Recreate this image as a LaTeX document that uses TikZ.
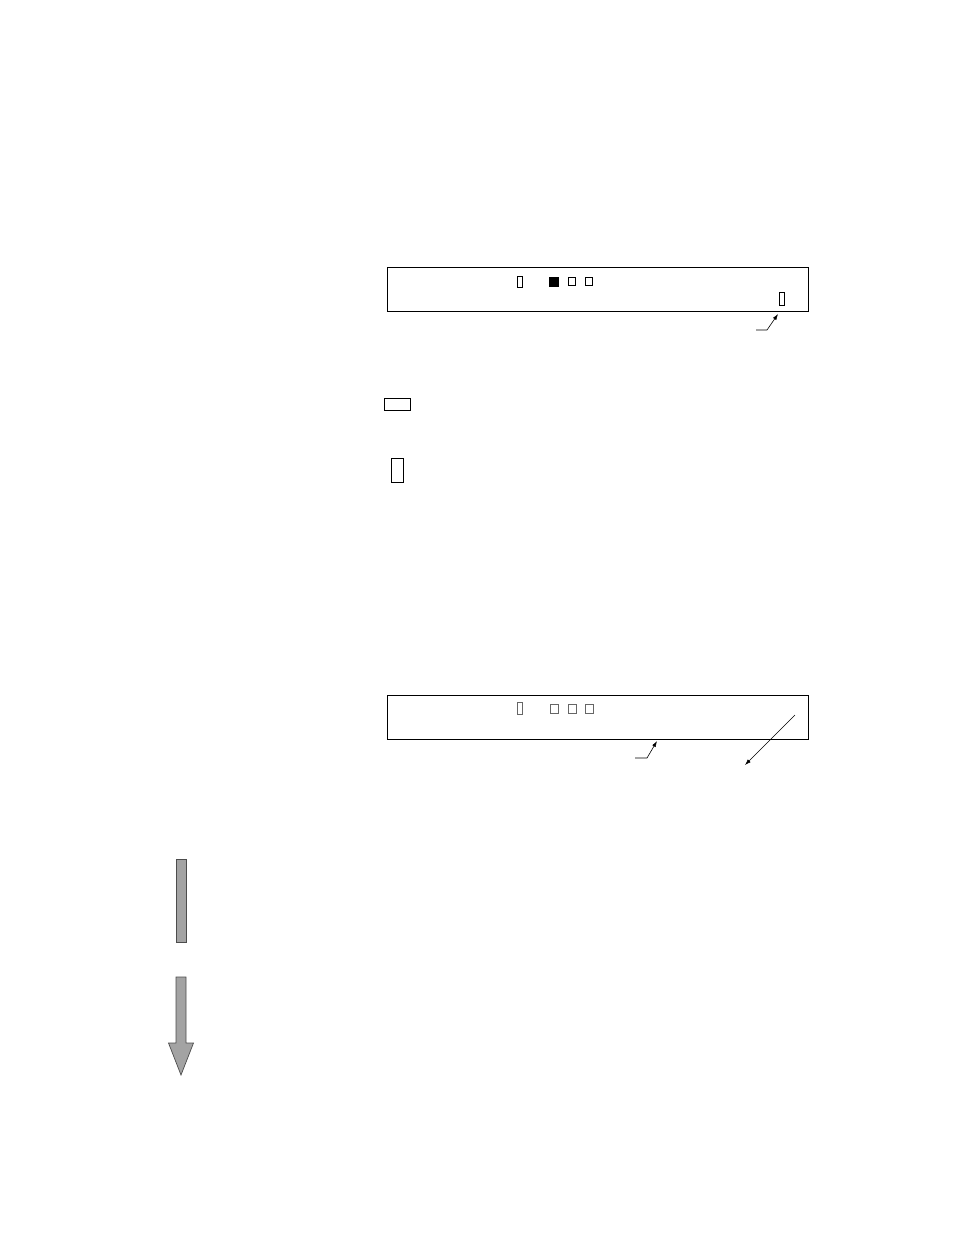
\documentclass[tikz,border=0pt]{standalone}
\usetikzlibrary{arrows.meta}
\newcommand{\framecolor}{black}
\newcommand{\flowcolor}{gray!72}
\newcommand{\thin}{0.9pt}
\tikzset{
  panel/.style={draw=\framecolor, line width=\thin, inner sep=0pt, minimum width=421pt, minimum height=44pt},
  led/.style={draw=\framecolor, line width=0.8pt, inner sep=0pt, minimum width=7pt, minimum height=8pt},
  slot/.style={draw=\framecolor, line width=0.8pt, inner sep=0pt, minimum width=5pt, minimum height=11pt},
  pointer/.style={line width=0.6pt, -{Latex[length=6pt,width=4pt]}}
}
\begin{document}
\begin{tikzpicture}[x=1pt,y=-1pt]
\useasboundingbox (0,0) rectangle (954,1235);
%top panel
\node[panel] (1) at (597.5,289) {};
\node[slot] (2) at (519.5,281.5) {};
\node[led, fill=black, minimum width=9pt, minimum height=9pt] (3) at (554,281.5) {};
\node[led] (4) at (572.2,281.3) {};
\node[led] (5) at (588.8,281.3) {};
\node[slot, minimum height=13pt] (6) at (782,299) {};
\coordinate (7) at (756,330);
\coordinate (8) at (767,330);
\coordinate (9) at (778,314);
\draw[pointer] (7) -- (8) -- (9);
%legend
\node[draw, line width=\thin, inner sep=0pt, minimum width=26pt, minimum height=12pt] (10) at (397,404) {};
\node[draw, line width=\thin, inner sep=0pt, minimum width=12pt, minimum height=24pt] (11) at (397,470) {};
%bottom panel
\node[panel] (12) at (597.5,717) {};
\node[slot, draw=gray!80!black, minimum height=12pt] (13) at (519.5,708) {};
\node[led, draw=gray!80!black, minimum width=8pt, minimum height=9pt] (14) at (554.3,709) {};
\node[led, draw=gray!80!black, minimum width=8pt, minimum height=9pt] (15) at (572,709) {};
\node[led, draw=gray!80!black, minimum width=8pt, minimum height=9pt] (16) at (589.5,709) {};
\coordinate (17) at (635,758);
\coordinate (18) at (647,758);
\coordinate (19) at (657,741);
\draw[pointer] (17) -- (18) -- (19);
\coordinate (20) at (795,715);
\coordinate (21) at (745,765);
\draw[pointer] (20) -- (21);
%flow
\draw[fill=\flowcolor, draw=gray!60!black, line width=0.7pt] (176,859) rectangle (186,942);
\draw[fill=\flowcolor, draw=gray!60!black, line width=0.7pt] (176,977) -- (186,977) -- (186,1043) -- (193.5,1043) -- (181,1075) -- (168.5,1043) -- (176,1043) -- cycle;
\end{tikzpicture}
\end{document}
